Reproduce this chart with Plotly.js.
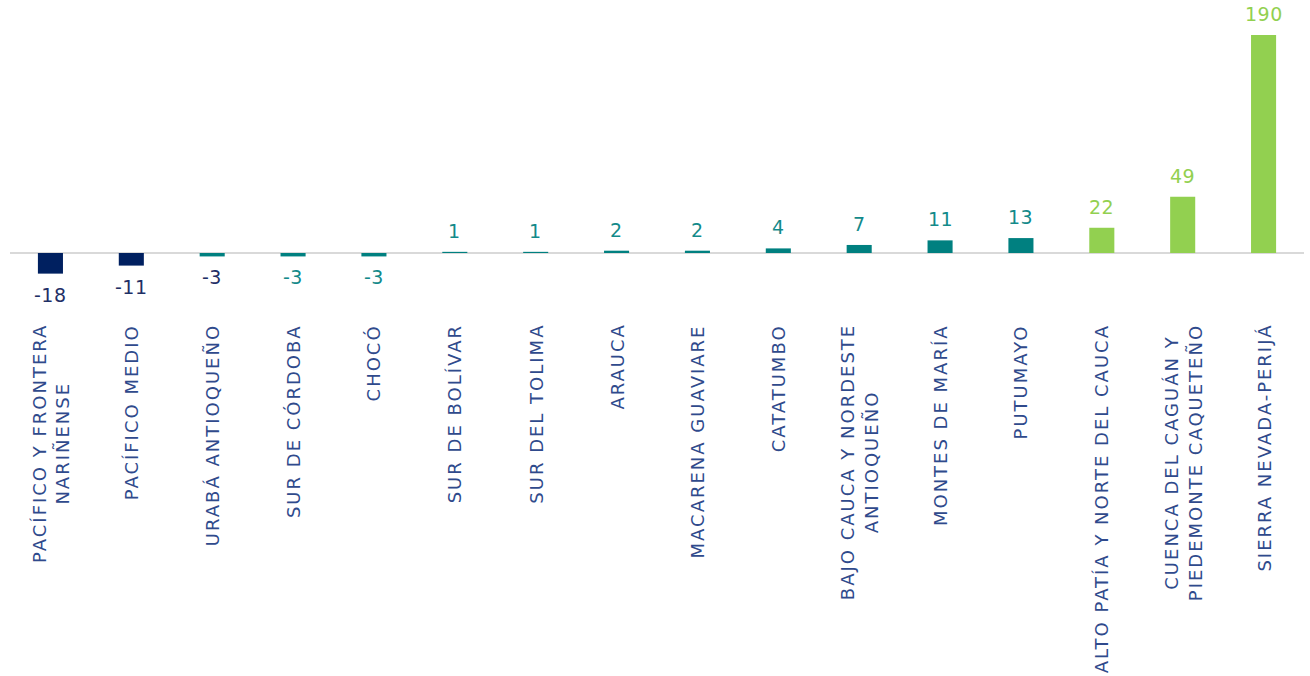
<!DOCTYPE html>
<html>
<head>
<meta charset="utf-8">
<script src="https://cdn.plot.ly/plotly-3.0.1.min.js"></script>
<style>
html,body{margin:0;padding:0;background:#fff;}
#chart{width:1310px;height:676px;}
text.annotation-text[style*="font-size: 18px"]{letter-spacing:2px;}
text.annotation-text[style*="font-size: 19px"]{letter-spacing:0.5px;}
</style>
</head>
<body>
<div id="chart"></div>
<script>
var categories = [
  "PACÍFICO Y FRONTERA<br>NARIÑENSE",
  "PACÍFICO MEDIO",
  "URABÁ ANTIOQUEÑO",
  "SUR DE CÓRDOBA",
  "CHOCÓ",
  "SUR DE BOLÍVAR",
  "SUR DEL TOLIMA",
  "ARAUCA",
  "MACARENA GUAVIARE",
  "CATATUMBO",
  "BAJO CAUCA Y NORDESTE<br>ANTIOQUEÑO",
  "MONTES DE MARÍA",
  "PUTUMAYO",
  "ALTO PATÍA Y NORTE DEL CAUCA",
  "CUENCA DEL CAGUÁN Y<br>PIEDEMONTE CAQUETEÑO",
  "SIERRA NEVADA-PERIJÁ"
];
var values = [-18, -11, -3, -3, -3, 1, 1, 2, 2, 4, 7, 11, 13, 22, 49, 190];

var NAVY = "#002060", TEAL = "#008080", GREEN = "#92D050";
var barColors = [NAVY, NAVY, TEAL, TEAL, TEAL, TEAL, TEAL, TEAL, TEAL, TEAL, TEAL, TEAL, TEAL, GREEN, GREEN, GREEN];
var textColors = ["#1F2F66", "#1F2F66", "#1F2F66", "#138A8A", "#138A8A", "#138A8A", "#138A8A", "#138A8A", "#138A8A", "#138A8A", "#138A8A", "#138A8A", "#138A8A", GREEN, GREEN, GREEN];

var FONT = "DejaVu Sans, sans-serif";
var idx = categories.map(function(_, i){ return i; });

var annotations = [];
categories.forEach(function(c, i){
  annotations.push({
    x: i, xref: "x", y: 0, yref: "paper", yshift: -22,
    xanchor: "center", yanchor: "top",
    text: c, textangle: -90, align: "center", showarrow: false,
    font: {family: FONT, size: 18, color: "#2F4A8C"}
  });
});
values.forEach(function(v, i){
  annotations.push({
    x: i, xref: "x", y: v, yref: "y",
    yshift: v >= 0 ? 21 : -21,
    xanchor: "center", yanchor: "middle",
    text: String(v), showarrow: false,
    font: {family: FONT, size: 19, color: textColors[i]}
  });
});

var trace = {
  type: "bar",
  x: idx,
  y: values,
  marker: {color: barColors},
  width: 0.31,
  hoverinfo: "skip"
};

var layout = {
  width: 1310, height: 676,
  margin: {l: 10, r: 6, t: 10, b: 376},
  paper_bgcolor: "#fff", plot_bgcolor: "#fff",
  showlegend: false,
  xaxis: {range: [-0.5, 15.5], showticklabels: false, showgrid: false, zeroline: false, ticks: "", fixedrange: true},
  yaxis: {range: [-41, 211.9], showticklabels: false, showgrid: false, zeroline: true, zerolinecolor: "#d9d9d9", zerolinewidth: 2, fixedrange: true},
  annotations: annotations
};

Plotly.newPlot("chart", [trace], layout, {displayModeBar: false, staticPlot: true});
</script>
</body>
</html>
